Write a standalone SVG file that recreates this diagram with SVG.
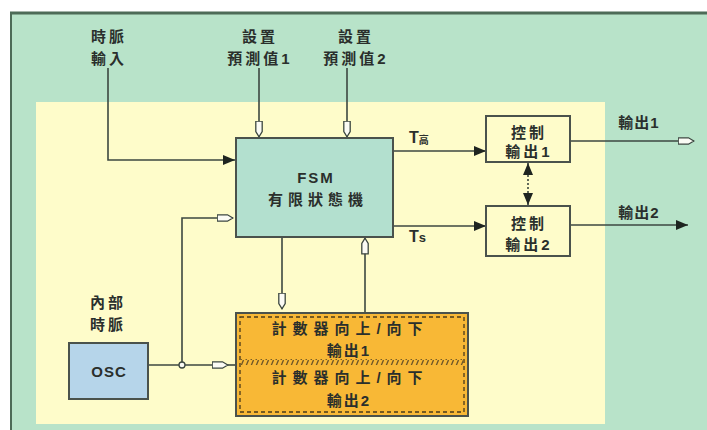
<svg xmlns="http://www.w3.org/2000/svg" width="707" height="430" viewBox="0 0 707 430">
<defs>
<style>
.t{font-family:"Liberation Sans","Noto Sans CJK TC",sans-serif;font-size:15px;font-weight:bold;fill:#2a2f2c;letter-spacing:3px;text-anchor:middle}
.tl{font-family:"Liberation Sans","Noto Sans CJK TC",sans-serif;font-weight:bold;fill:#2a2f2c}
.ln{fill:none;stroke:#3c4740;stroke-width:1.6}
.box{stroke:#4a524c;stroke-width:2}
</style>
<marker id="fa" viewBox="0 0 12 10" refX="12" refY="5" markerWidth="12" markerHeight="10" markerUnits="userSpaceOnUse" orient="auto-start-reverse">
<path d="M0,0 L12,5 L0,10 Z" fill="#1e2420"/>
</marker>
<marker id="ha" viewBox="0 0 17 8" refX="16.5" refY="4" markerWidth="17" markerHeight="8" markerUnits="userSpaceOnUse" orient="auto">
<path d="M0.7,0.8 L11,0.8 L16.3,4 L11,7.2 L0.7,7.2 Z" fill="#fbfbf5" stroke="#3c4740" stroke-width="1.3"/>
</marker>
<pattern id="hatch" width="5" height="6" patternUnits="userSpaceOnUse">
<path d="M1,6 L3.5,0" stroke="#6b5326" stroke-width="1.3"/>
</pattern>
</defs>

<rect x="10" y="12" width="697" height="418" fill="#b8e3c9"/>
<line x1="10" y1="13" x2="707" y2="13" stroke="#4d6b57" stroke-width="3"/>
<line x1="11" y1="12" x2="11" y2="430" stroke="#4d6b57" stroke-width="2"/>
<rect x="36" y="102" width="569" height="322" fill="#fefcca"/>

<g id="connectors">
<path class="ln" d="M108,68 V160 H235" marker-end="url(#fa)"/>
<path class="ln" d="M259,68 V137" marker-end="url(#ha)"/>
<path class="ln" d="M347,68 V137" marker-end="url(#ha)"/>
<path class="ln" d="M393,151 H486" marker-end="url(#fa)"/>
<path class="ln" d="M393,226 H486" marker-end="url(#fa)"/>
<path class="ln" d="M528,163 V205" stroke-dasharray="2,2" marker-start="url(#fa)" marker-end="url(#fa)"/>
<path class="ln" d="M570,141 H694" marker-end="url(#ha)"/>
<path class="ln" d="M570,225 H688" marker-end="url(#fa)"/>
<path class="ln" d="M282,237 V309" marker-end="url(#ha)"/>
<path class="ln" d="M365,312 V238" marker-end="url(#ha)"/>
<path class="ln" d="M148,365 H228"  marker-end="url(#ha)"/>
<path class="ln" d="M228,365 H235"/>
<path class="ln" d="M182,365 V218 H233" marker-end="url(#ha)"/>
<circle cx="182" cy="365" r="3" fill="#fbfbf5" stroke="#3c4740" stroke-width="1.3"/>
<text class="tl" x="409" y="143" font-size="16">T<tspan font-size="10" dy="1">高</tspan></text>
<text class="tl" x="409" y="242" font-size="16">T<tspan font-size="13" dy="0">s</tspan></text>
</g>

<g id="clock-input">
<text class="t" x="109" y="42">時脈</text>
<text class="t" x="109" y="64">輸入</text>
</g>
<g id="preset1">
<text class="t" x="260" y="42">設置</text>
<text class="t" x="260" y="64">預測值1</text>
</g>
<g id="preset2">
<text class="t" x="356" y="42">設置</text>
<text class="t" x="356" y="64">預測值2</text>
</g>

<g id="fsm">
<rect class="box" x="236" y="138" width="157" height="99" fill="#b3e0cf"/>
<text class="t" x="316" y="183" style="letter-spacing:2px">FSM</text>
<text class="t" x="318" y="205" style="letter-spacing:5px">有限狀態機</text>
</g>

<g id="ctrl1">
<rect class="box" x="486" y="116" width="84" height="46" fill="none"/>
<text class="t" x="529" y="138">控制</text>
<text class="t" x="529" y="157">輸出1</text>
</g>
<g id="ctrl2">
<rect class="box" x="486" y="206" width="84" height="50" fill="none"/>
<text class="t" x="529" y="229">控制</text>
<text class="t" x="529" y="250">輸出2</text>
</g>

<g id="out1">
<text class="t" x="639" y="128" style="letter-spacing:1px">輸出1</text>
</g>
<g id="out2">
<text class="t" x="639" y="218" style="letter-spacing:1px">輸出2</text>
</g>

<g id="counter">
<rect class="box" x="236" y="313" width="232" height="103" fill="#f8b836"/>
<rect x="240" y="317" width="224" height="95" fill="none" stroke="#4a3a1a" stroke-width="1.3" stroke-dasharray="4,3"/>
<rect x="241" y="359" width="222" height="6" fill="url(#hatch)"/>
<text class="t" x="350" y="334" style="letter-spacing:6px">計數器向上/向下</text>
<text class="t" x="349" y="356" style="letter-spacing:2px">輸出1</text>
<text class="t" x="350" y="383" style="letter-spacing:6px">計數器向上/向下</text>
<text class="t" x="349" y="406" style="letter-spacing:2px">輸出2</text>
</g>

<g id="internal-clock">
<text class="t" x="108" y="308">內部</text>
<text class="t" x="108" y="330">時脈</text>
</g>

<g id="osc">
<rect class="box" x="69" y="343" width="79" height="56" fill="#b6d5ea"/>
<text class="t" x="109" y="377" style="letter-spacing:1px">OSC</text>
</g>
</svg>
